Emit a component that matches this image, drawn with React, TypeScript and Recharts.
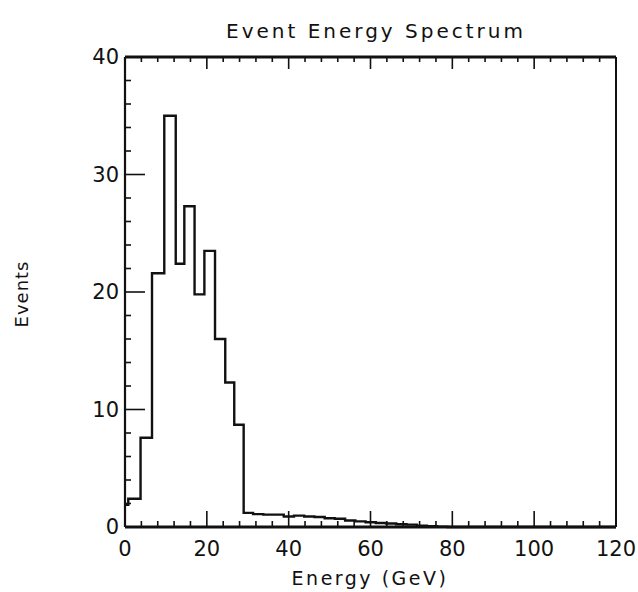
import React from "react";
import { LineChart, Line, XAxis, YAxis } from "recharts";

document.body.style.margin = "0";

// left edge of each energy bin (GeV) and the event count in that bin
const binEdges = [
  0, 0.8, 3.8, 6.6, 9.6, 12.4, 14.5, 17.0, 19.4, 22.0, 24.5, 26.7, 29.0, 31.3,
  33.8, 36.3, 38.8, 41.3, 43.8, 46.3, 48.8, 51.3, 53.8, 56.3, 58.8, 61.3, 63.8,
  66.3, 68.8, 71.3, 73.8, 76.3, 78.8, 120,
];
const binCounts = [
  1.9, 2.4, 7.6, 21.6, 35.0, 22.4, 27.3, 19.8, 23.5, 16.0, 12.3, 8.7, 1.2, 1.1,
  1.05, 1.05, 0.9, 0.97, 0.9, 0.85, 0.75, 0.7, 0.55, 0.48, 0.4, 0.34, 0.3, 0.23,
  0.2, 0.12, 0.06, 0.03, 0, 0,
];

const xTicks = [0, 4, 8, 12, 16, 20, 24, 28, 32, 36, 40, 44, 48, 52, 56, 60, 64, 68, 72, 76, 80, 84, 88, 92, 96, 100, 104, 108, 112, 116, 120];
const xMajor = [0, 20, 40, 60, 80, 100, 120];
const yTicks = [0, 2, 4, 6, 8, 10, 12, 14, 16, 18, 20, 22, 24, 26, 28, 30, 32, 34, 36, 38, 40];
const yMajor = [0, 10, 20, 30, 40];

const data = binEdges.map((e, i) => ({ energy: e, events: binCounts[i] }));

const FONT = "'DejaVu Sans', sans-serif";
const INK = "#111";

function BottomTick(props: any) {
  const { x, y, payload } = props;
  const major = xMajor.includes(payload.value);
  return (
    <g>
      <line x1={x} y1={y} x2={x} y2={y - (major ? 16 : 6)} stroke={INK} strokeWidth={1.6} />
      {major && (
        <text x={x} y={y + 29} textAnchor="middle" fontSize={21} fontFamily={FONT} fill={INK}>
          {payload.value}
        </text>
      )}
    </g>
  );
}

function TopTick(props: any) {
  const { x, y, payload } = props;
  const major = xMajor.includes(payload.value);
  return <line x1={x} y1={y} x2={x} y2={y + (major ? 12 : 5)} stroke={INK} strokeWidth={1.6} />;
}

function LeftTick(props: any) {
  const { x, y, payload } = props;
  const major = yMajor.includes(payload.value);
  return (
    <g>
      <line x1={x} y1={y} x2={x + (major ? 20 : 6)} y2={y} stroke={INK} strokeWidth={1.6} />
      {major && (
        <text x={x - 6} y={y + 7} textAnchor="end" fontSize={21} fontFamily={FONT} fill={INK}>
          {payload.value}
        </text>
      )}
    </g>
  );
}

function RightTick(props: any) {
  const { x, y, payload } = props;
  const major = yMajor.includes(payload.value);
  return <line x1={x} y1={y} x2={x - (major ? 17 : 6)} y2={y} stroke={INK} strokeWidth={1.6} />;
}

export default function App() {
  return (
    <LineChart
      width={638}
      height={592}
      data={data}
      margin={{ top: 56, right: 0, left: 0, bottom: 0 }}
      style={{ background: "#fff" }}
    >
      <XAxis
        xAxisId="bottom"
        dataKey="energy"
        type="number"
        domain={[0, 120]}
        ticks={xTicks}
        interval={0}
        height={65}
        tickSize={0}
        tickMargin={0}
        tick={<BottomTick />}
        tickLine={false}
        axisLine={{ stroke: INK, strokeWidth: 3 }}
      />
      <XAxis
        xAxisId="top"
        orientation="top"
        dataKey="energy"
        type="number"
        domain={[0, 120]}
        ticks={xTicks}
        interval={0}
        height={1}
        tickSize={0}
        tickMargin={0}
        tick={<TopTick />}
        tickLine={false}
        axisLine={{ stroke: INK, strokeWidth: 3 }}
      />
      <YAxis
        yAxisId="left"
        type="number"
        domain={[0, 40]}
        ticks={yTicks}
        interval={0}
        width={125}
        tickSize={0}
        tickMargin={0}
        tick={<LeftTick />}
        tickLine={false}
        axisLine={{ stroke: INK, strokeWidth: 2.2 }}
      />
      <YAxis
        yAxisId="right"
        orientation="right"
        type="number"
        domain={[0, 40]}
        ticks={yTicks}
        interval={0}
        width={22}
        tickSize={0}
        tickMargin={0}
        tick={<RightTick />}
        tickLine={false}
        axisLine={{ stroke: INK, strokeWidth: 2 }}
      />
      <Line
        xAxisId="bottom"
        yAxisId="left"
        dataKey="events"
        type="stepAfter"
        stroke={INK}
        strokeWidth={2.4}
        dot={false}
        activeDot={false}
        isAnimationActive={false}
      />
      <text x={376} y={38} textAnchor="middle" fontSize={20} fontFamily={FONT} letterSpacing={3} fill={INK}>
        Event Energy Spectrum
      </text>
      <text x={370} y={585} textAnchor="middle" fontSize={19} fontFamily={FONT} letterSpacing={2.5} fill={INK}>
        Energy (GeV)
      </text>
      <text
        x={0}
        y={0}
        transform="translate(28, 294) rotate(-90)"
        textAnchor="middle"
        fontSize={18}
        fontFamily={FONT}
        letterSpacing={1}
        fill={INK}
      >
        Events
      </text>
    </LineChart>
  );
}
